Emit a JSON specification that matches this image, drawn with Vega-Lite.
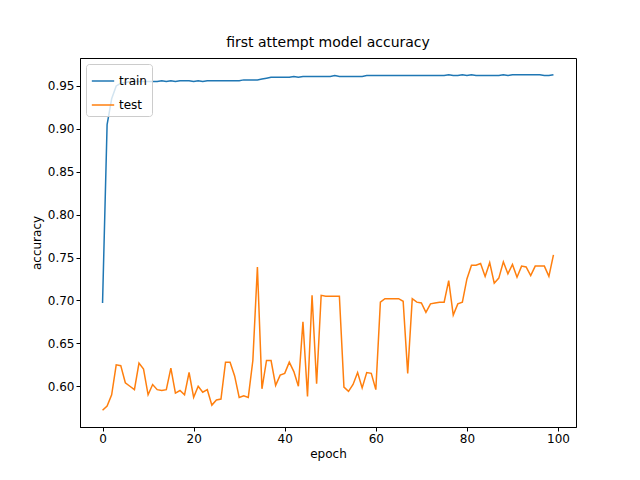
{"$schema":"https://vega.github.io/schema/vega-lite/v6.json","width":496,"height":369,"padding":{"left":80,"top":58,"right":64,"bottom":53},"autosize":"none","background":"white",
"title":{"text":"first attempt model accuracy","font":"DejaVu Sans","fontSize":14,"fontWeight":"normal","color":"black","offset":8},
"config":{"view":{"stroke":"black","strokeWidth":1},"axis":{"labelFont":"DejaVu Sans","titleFont":"DejaVu Sans","labelFontSize":12,"titleFontSize":12,"titleFontWeight":"normal","labelColor":"black","titleColor":"black","grid":false,"tickColor":"black","domainColor":"black","tickSize":4}},
"data":{"values":[
{"e":0,"train":0.697,"test":0.572},{"e":1,"train":0.905,"test":0.577},{"e":2,"train":0.935,"test":0.590},{"e":3,"train":0.950,"test":0.625},{"e":4,"train":0.953,"test":0.624},{"e":5,"train":0.954,"test":0.604},{"e":6,"train":0.955,"test":0.600},{"e":7,"train":0.955,"test":0.596},{"e":8,"train":0.955,"test":0.627},{"e":9,"train":0.955,"test":0.620},
{"e":10,"train":0.955,"test":0.590},{"e":11,"train":0.955,"test":0.602},{"e":12,"train":0.955,"test":0.596},{"e":13,"train":0.956,"test":0.595},{"e":14,"train":0.955,"test":0.596},{"e":15,"train":0.956,"test":0.621},{"e":16,"train":0.955,"test":0.592},{"e":17,"train":0.956,"test":0.595},{"e":18,"train":0.956,"test":0.590},{"e":19,"train":0.956,"test":0.616},
{"e":20,"train":0.955,"test":0.587},{"e":21,"train":0.956,"test":0.600},{"e":22,"train":0.955,"test":0.593},{"e":23,"train":0.956,"test":0.596},{"e":24,"train":0.956,"test":0.578},{"e":25,"train":0.956,"test":0.584},{"e":26,"train":0.956,"test":0.585},{"e":27,"train":0.956,"test":0.628},{"e":28,"train":0.956,"test":0.628},{"e":29,"train":0.956,"test":0.612},
{"e":30,"train":0.956,"test":0.587},{"e":31,"train":0.957,"test":0.589},{"e":32,"train":0.957,"test":0.587},{"e":33,"train":0.957,"test":0.630},{"e":34,"train":0.957,"test":0.739},{"e":35,"train":0.958,"test":0.597},{"e":36,"train":0.959,"test":0.630},{"e":37,"train":0.960,"test":0.630},{"e":38,"train":0.960,"test":0.601},{"e":39,"train":0.960,"test":0.613},
{"e":40,"train":0.960,"test":0.615},{"e":41,"train":0.960,"test":0.628},{"e":42,"train":0.961,"test":0.617},{"e":43,"train":0.960,"test":0.600},{"e":44,"train":0.961,"test":0.675},{"e":45,"train":0.961,"test":0.588},{"e":46,"train":0.961,"test":0.706},{"e":47,"train":0.961,"test":0.603},{"e":48,"train":0.961,"test":0.706},{"e":49,"train":0.961,"test":0.705},
{"e":50,"train":0.961,"test":0.705},{"e":51,"train":0.962,"test":0.705},{"e":52,"train":0.961,"test":0.705},{"e":53,"train":0.961,"test":0.599},{"e":54,"train":0.961,"test":0.594},{"e":55,"train":0.961,"test":0.602},{"e":56,"train":0.961,"test":0.616},{"e":57,"train":0.961,"test":0.598},{"e":58,"train":0.962,"test":0.616},{"e":59,"train":0.962,"test":0.615},
{"e":60,"train":0.962,"test":0.596},{"e":61,"train":0.962,"test":0.698},{"e":62,"train":0.962,"test":0.702},{"e":63,"train":0.962,"test":0.702},{"e":64,"train":0.962,"test":0.702},{"e":65,"train":0.962,"test":0.702},{"e":66,"train":0.962,"test":0.699},{"e":67,"train":0.962,"test":0.615},{"e":68,"train":0.962,"test":0.702},{"e":69,"train":0.962,"test":0.698},
{"e":70,"train":0.962,"test":0.697},{"e":71,"train":0.962,"test":0.686},{"e":72,"train":0.962,"test":0.696},{"e":73,"train":0.962,"test":0.697},{"e":74,"train":0.962,"test":0.698},{"e":75,"train":0.962,"test":0.698},{"e":76,"train":0.963,"test":0.723},{"e":77,"train":0.962,"test":0.683},{"e":78,"train":0.962,"test":0.696},{"e":79,"train":0.963,"test":0.698},
{"e":80,"train":0.962,"test":0.725},{"e":81,"train":0.963,"test":0.741},{"e":82,"train":0.962,"test":0.741},{"e":83,"train":0.962,"test":0.743},{"e":84,"train":0.962,"test":0.728},{"e":85,"train":0.962,"test":0.744},{"e":86,"train":0.962,"test":0.720},{"e":87,"train":0.962,"test":0.726},{"e":88,"train":0.963,"test":0.745},{"e":89,"train":0.962,"test":0.731},
{"e":90,"train":0.963,"test":0.742},{"e":91,"train":0.963,"test":0.727},{"e":92,"train":0.963,"test":0.740},{"e":93,"train":0.963,"test":0.739},{"e":94,"train":0.963,"test":0.729},{"e":95,"train":0.963,"test":0.740},{"e":96,"train":0.963,"test":0.740},{"e":97,"train":0.962,"test":0.740},{"e":98,"train":0.962,"test":0.728},{"e":99,"train":0.963,"test":0.753}
]},
"transform":[{"fold":["train","test"],"as":["series","acc"]}],
"mark":{"type":"line","strokeWidth":1.5,"clip":true},
"encoding":{
"x":{"field":"e","type":"quantitative","title":"epoch","scale":{"domain":[-4.95,103.95],"nice":false,"zero":false},"axis":{"values":[0,20,40,60,80,100],"labelFlush":false}},
"y":{"field":"acc","type":"quantitative","title":"accuracy","scale":{"domain":[0.5525,0.9825],"nice":false,"zero":false},"axis":{"values":[0.6,0.65,0.7,0.75,0.8,0.85,0.9,0.95],"format":".2f","labelFlush":false}},
"color":{"field":"series","type":"nominal","sort":["train","test"],"scale":{"domain":["train","test"],"range":["#1f77b4","#ff7f0e"]},
"legend":{"title":null,"orient":"top-left","offset":6,"symbolType":"stroke","symbolSize":500,"symbolStrokeWidth":1.5,"labelFont":"DejaVu Sans","labelFontSize":12,"labelColor":"black","strokeColor":"#cccccc","fillColor":"rgba(255,255,255,0.8)","padding":5,"cornerRadius":3,"rowPadding":6}}}
}
